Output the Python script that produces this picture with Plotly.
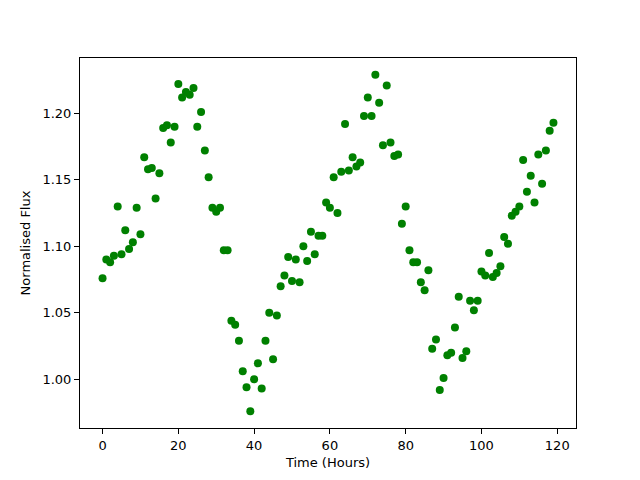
import plotly.graph_objects as go

hours = list(range(120))
flux = [
    1.076, 1.090, 1.088, 1.093, 1.130, 1.094, 1.112, 1.098, 1.103, 1.129,
    1.109, 1.167, 1.158, 1.159, 1.136, 1.155, 1.189, 1.191, 1.178, 1.190,
    1.222, 1.212, 1.216, 1.214, 1.219, 1.190, 1.201, 1.172, 1.152, 1.129,
    1.126, 1.129, 1.097, 1.097, 1.044, 1.041, 1.029, 1.006, 0.994, 0.976,
    1.000, 1.012, 0.993, 1.029, 1.050, 1.015, 1.048, 1.070, 1.078, 1.092,
    1.074, 1.090, 1.073, 1.100, 1.089, 1.111, 1.094, 1.108, 1.108, 1.133,
    1.129, 1.152, 1.125, 1.156, 1.192, 1.157, 1.167, 1.160, 1.163, 1.198,
    1.212, 1.198, 1.229, 1.208, 1.176, 1.221, 1.178, 1.168, 1.169, 1.117,
    1.130, 1.097, 1.088, 1.088, 1.073, 1.067, 1.082, 1.023, 1.030, 0.992,
    1.001, 1.018, 1.020, 1.039, 1.062, 1.016, 1.021, 1.059, 1.052, 1.059,
    1.081, 1.078, 1.095, 1.077, 1.080, 1.085, 1.107, 1.102, 1.123, 1.126,
    1.130, 1.165, 1.141, 1.153, 1.133, 1.169, 1.147, 1.172, 1.187, 1.193,
]
x_ticks = [0, 20, 40, 60, 80, 100, 120]
y_ticks = [1.00, 1.05, 1.10, 1.15, 1.20]

xmin, xmax = min(hours), max(hours)
ymin, ymax = min(flux), max(flux)
xpad = 0.05 * (xmax - xmin)
ypad = 0.05 * (ymax - ymin)

fig = go.Figure(go.Scatter(
    x=hours, y=flux, mode="markers",
    marker=dict(color="#008000", size=8, line=dict(width=0)),
))

font = dict(family="DejaVu Sans", size=13, color="black")
axis_common = dict(
    showgrid=False, zeroline=False, showline=True, linecolor="black",
    linewidth=1, mirror=True, ticks="outside", ticklen=5, tickwidth=1,
    tickcolor="black", tickfont=font,
)
fig.update_xaxes(range=[xmin - xpad, xmax + xpad], tickvals=x_ticks,
                 title=dict(text="Time (Hours)", font=font, standoff=6),
                 **axis_common)
fig.update_yaxes(range=[ymin - ypad, ymax + ypad], tickvals=y_ticks,
                 tickformat=".2f",
                 title=dict(text="Normalised Flux", font=font, standoff=8),
                 **axis_common)
fig.update_layout(
    width=632, height=472, plot_bgcolor="white", paper_bgcolor="white",
    margin=dict(l=72, r=64, t=50, b=52), showlegend=False, font=font,
)
fig.write_html("out.html")
